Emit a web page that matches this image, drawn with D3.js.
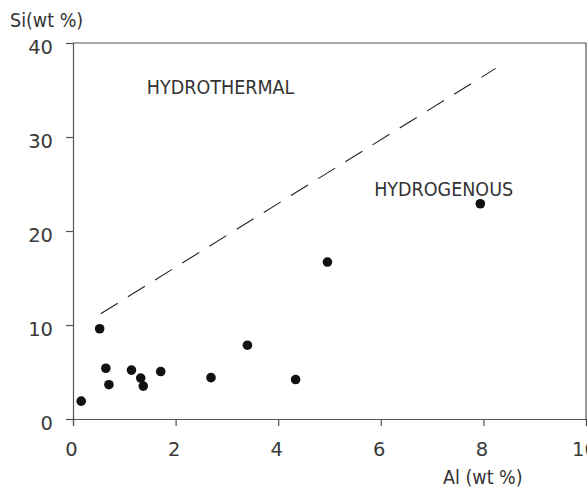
<!doctype html>
<html>
  <head>
    <script src="https://cdnjs.cloudflare.com/ajax/libs/d3/7.8.5/d3.min.js"></script>
    <style>
      body { margin: 0; background: #fff; }
      text { font-family: "DejaVu Sans Condensed", "DejaVu Sans", sans-serif; fill: #333; }
    </style>
  </head>
  <body>
    <svg id="chart" width="587" height="488"></svg>
    <script>
        // Al and Si contents (wt %) of the samples
        var alValues = [0.16, 0.52, 0.64, 0.70, 1.14, 1.32, 1.37, 1.71, 2.69, 3.40, 4.34, 4.96, 7.94];
        var siValues = [1.9, 9.6, 5.4, 3.65, 5.2, 4.35, 3.5, 5.05, 4.4, 7.85, 4.2, 16.7, 22.9];

        // dashed boundary between the two fields
        var boundaryAl = [0.54, 8.24];
        var boundarySi = [11.2, 37.3];

        var xTicks = [0, 2, 4, 6, 8, 10];
        var yTicks = [0, 10, 20, 30, 40];
        var fieldNames = ["HYDROTHERMAL", "HYDROGENOUS"];

        var margin = {top: 43, right: 1, bottom: 69, left: 73};
        var svg = d3.select("#chart");
        var width = 587 - margin.left - margin.right;
        var height = 488 - margin.top - margin.bottom;

        var x = d3.scaleLinear().domain([0, 10]).range([0, width]);
        var y = d3.scaleLinear().domain([0, 40]).range([height, 0]);

        var g = svg.append("g").attr("transform", "translate(" + margin.left + "," + margin.top + ")");

        // frame (top and right)
        g.append("path")
            .attr("d", "M0,0H" + x(10) + "V" + y(0))
            .attr("fill", "none")
            .attr("stroke", "#555")
            .attr("stroke-width", 1.2);

        var xAxis = g.append("g")
            .attr("transform", "translate(0," + height + ")")
            .call(d3.axisBottom(x).tickValues(xTicks).tickSize(7).tickPadding(16));
        var yAxis = g.append("g")
            .call(d3.axisLeft(y).tickValues(yTicks).tickSize(7).tickPadding(13));

        [xAxis, yAxis].forEach(a => {
            a.select(".domain").attr("stroke", "#555").attr("stroke-width", 1.2);
            a.selectAll(".tick line").attr("stroke", "#555").attr("stroke-width", 1.2);
            a.selectAll("text")
                .style("font-family", "'DejaVu Sans', sans-serif")
                .style("font-size", "19.5px")
                .style("fill", "#3a3a3a");
        });
        xAxis.selectAll("text").attr("dx", "-2");
        yAxis.selectAll("text").attr("dy", "0.55em");

        // boundary line
        var line = d3.line().x(d => x(d[0])).y(d => y(d[1]));
        g.append("path")
            .datum(d3.zip(boundaryAl, boundarySi))
            .attr("d", line)
            .attr("fill", "none")
            .attr("stroke", "#222")
            .attr("stroke-width", 1.1)
            .attr("stroke-dasharray", "20,12");

        // samples
        g.selectAll("circle")
            .data(d3.zip(alValues, siValues))
            .enter()
            .append("circle")
                .attr("cx", d => x(d[0]))
                .attr("cy", d => y(d[1]))
                .attr("r", 4.8)
                .attr("fill", "#111");

        // field labels
        g.append("text")
            .attr("x", x(1.44))
            .attr("y", y(34.6))
            .style("font-size", "19.5px")
            .text(fieldNames[0]);
        g.append("text")
            .attr("x", x(5.87))
            .attr("y", y(23.7))
            .style("font-size", "19.5px")
            .text(fieldNames[1]);

        // axis titles
        svg.append("text")
            .attr("x", 10)
            .attr("y", 27)
            .style("font-size", "19.5px")
            .text("Si(wt %)");
        svg.append("text")
            .attr("x", 443)
            .attr("y", 484)
            .style("font-size", "19.5px")
            .text("Al (wt %)");
    </script>
  </body>
</html>
